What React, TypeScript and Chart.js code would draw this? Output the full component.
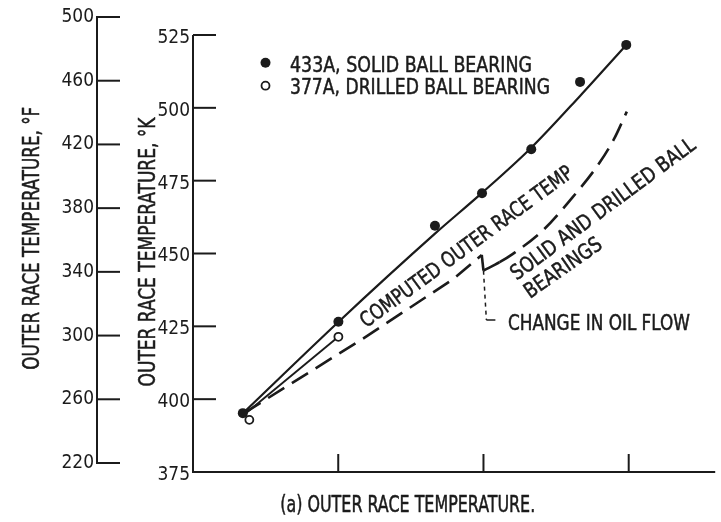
import React, { useEffect, useRef } from 'react';
import { Chart, registerables } from 'chart.js';

Chart.register(...registerables);

const INK = '#1b1b1b';

// ---- axis ticks ----
const X_TICKS = [1, 2, 3];
const K_TICKS = [375, 400, 425, 450, 475, 500, 525];
const F_TICKS = [220, 260, 300, 340, 380, 420, 460, 500];

// ---- measured points ----
const SOLID_X = [0.343, 1.001, 1.666, 1.99, 2.329, 2.665, 2.983];
const SOLID_K = [395.2, 426.6, 459.5, 470.7, 485.8, 508.9, 521.6];
const DRILLED_X = [0.388, 1.001];
const DRILLED_K = [392.9, 421.4];

// ---- faired curves ----
const SOLID_FIT_X = [0.343, 1.001, 1.666, 1.99, 2.329, 2.665, 2.983];
const SOLID_FIT_K = [395.15, 426.5, 456.8, 470.8, 486.3, 504.1, 521.6];
const DRILLED_FIT_X = [0.36, 1.001];
const DRILLED_FIT_K = [395.0, 421.4];

// ---- computed outer race temperature ----
const CALC_LOW_X = [0.354, 1.171, 1.791, 1.988, 2.0];
const CALC_LOW_K = [395.3, 420.8, 441.2, 449.5, 444.1];
const CALC_HIGH_X = [2.0, 2.111, 2.2, 2.4, 2.6, 2.8, 2.9, 2.987];
const CALC_HIGH_K = [444.1, 447.0, 449.8, 457.5, 468.5, 481.2, 489.4, 498.7];

// ---- change in oil flow leader ----
const OIL_X = [2.0, 2.02, 2.082];
const OIL_K = [444.1, 427.2, 427.2];

const LEGEND = ['433A, SOLID BALL BEARING', '377A, DRILLED BALL BEARING'];
const TITLE_K = 'OUTER RACE TEMPERATURE, \u00B0K';
const TITLE_F = 'OUTER RACE TEMPERATURE, \u00B0F';
const NOTE_COMPUTED = 'COMPUTED OUTER RACE TEMP';
const NOTE_BEARINGS_1 = 'SOLID AND DRILLED BALL';
const NOTE_BEARINGS_2 = 'BEARINGS';
const NOTE_OIL = 'CHANGE IN OIL FLOW';
const CAPTION = '(a) OUTER RACE TEMPERATURE.';

const pts = (xs: number[], ys: number[]) => xs.map((x, i) => ({ x, y: ys[i] }));

function pickFamily(): { family: string; narrow: boolean } {
  const c = document.createElement('canvas').getContext('2d')!;
  const sample = 'OUTER RACE TEMPERATURE 0123456789';
  const cands = ['Liberation Sans Narrow', 'DejaVu Sans Condensed', 'Roboto Condensed', 'Open Sans Condensed'];
  for (const f of cands) {
    c.font = '20px monospace';
    const a = c.measureText(sample).width;
    c.font = `20px '${f}', monospace`;
    const b = c.measureText(sample).width;
    if (Math.abs(a - b) > 1) return { family: `'${f}', sans-serif`, narrow: f === 'Liberation Sans Narrow' };
  }
  return { family: "'Liberation Sans', sans-serif", narrow: false };
}

function seg(ctx: CanvasRenderingContext2D, x1: number, y1: number, x2: number, y2: number) {
  ctx.beginPath();
  ctx.moveTo(x1, y1);
  ctx.lineTo(x2, y2);
  ctx.stroke();
}

export default function App() {
  const ref = useRef<HTMLCanvasElement>(null);

  useEffect(() => {
    const canvas = ref.current!;
    const { family, narrow } = pickFamily();

    const drawText = (
      ctx: CanvasRenderingContext2D,
      text: string,
      cx: number,
      cy: number,
      width: number,
      capH: number,
      angleDeg: number
    ) => {
      ctx.save();
      ctx.font = `${Math.round(capH / 0.72)}px ${family}`;
      ctx.translate(cx, cy);
      ctx.rotate((-angleDeg * Math.PI) / 180);
      const w = ctx.measureText(text).width;
      ctx.scale(width / w, 1);
      ctx.textAlign = 'center';
      ctx.textBaseline = 'alphabetic';
      ctx.fillStyle = INK;
      ctx.strokeStyle = INK;
      ctx.lineWidth = 0.5;
      ctx.lineJoin = 'round';
      ctx.fillText(text, 0, capH / 2);
      ctx.strokeText(text, 0, capH / 2);
      ctx.restore();
    };

    const paper = {
      id: 'paper',
      beforeDatasetsDraw(chart: any) {
        const { ctx, chartArea } = chart;
        const x = chart.scales.x;
        const y = chart.scales.y;
        const yF = chart.scales.yF;
        ctx.save();
        ctx.strokeStyle = INK;
        ctx.lineWidth = 2;
        // Kelvin axis
        const xk = chartArea.left;
        seg(ctx, xk, y.getPixelForValue(K_TICKS[K_TICKS.length - 1]), xk, y.getPixelForValue(K_TICKS[0]) + 1);
        K_TICKS.forEach((v) => {
          const py = y.getPixelForValue(v);
          seg(ctx, xk, py, xk + 23, py);
        });
        // bottom axis
        seg(ctx, xk - 1, chartArea.bottom, chartArea.right, chartArea.bottom);
        X_TICKS.forEach((v) => {
          const px = x.getPixelForValue(v);
          seg(ctx, px, chartArea.bottom, px, chartArea.bottom - 18);
        });
        // Fahrenheit axis
        const xf = yF.right;
        seg(ctx, xf, yF.getPixelForValue(F_TICKS[F_TICKS.length - 1]) - 1, xf, yF.getPixelForValue(F_TICKS[0]) + 1);
        F_TICKS.forEach((v) => {
          const py = yF.getPixelForValue(v);
          seg(ctx, xf, py, xf + 23, py);
        });
        ctx.restore();
      },
      afterDraw(chart: any) {
        const ctx: CanvasRenderingContext2D = chart.ctx;
        ctx.save();
        // legend markers
        ctx.fillStyle = INK;
        ctx.beginPath();
        ctx.arc(265.5, 62.7, 5, 0, Math.PI * 2);
        ctx.fill();
        ctx.strokeStyle = INK;
        ctx.lineWidth = 1.8;
        ctx.fillStyle = '#fff';
        ctx.beginPath();
        ctx.arc(265.5, 85.7, 4, 0, Math.PI * 2);
        ctx.fill();
        ctx.stroke();
        ctx.restore();

        drawText(ctx, LEGEND[0], 411, 64, 242, 15.5, 0);
        drawText(ctx, LEGEND[1], 420, 86, 260, 15.5, 0);

        drawText(ctx, TITLE_K, 147, 252, 269, 16.5, 90);
        drawText(ctx, TITLE_F, 31, 238.3, 263, 16.5, 90);

        drawText(ctx, NOTE_COMPUTED, 466, 246, 258, 15, 36.2);
        drawText(ctx, NOTE_BEARINGS_1, 602.5, 208.3, 224, 15, 36.4);
        drawText(ctx, NOTE_BEARINGS_2, 562.5, 267, 90, 15, 35);
        drawText(ctx, NOTE_OIL, 599, 322.5, 182, 15, 0);

        drawText(ctx, CAPTION, 407.7, 503.5, 255, 16.5, 0);
      },
    };

    const tickFont = { family, size: narrow ? 21 : 19 };

    const chart = new Chart(canvas, {
      type: 'line',
      data: {
        datasets: [
          {
            label: LEGEND[0],
            data: pts(SOLID_X, SOLID_K),
            showLine: false,
            pointRadius: 5,
            pointBackgroundColor: INK,
            pointBorderColor: INK,
            pointBorderWidth: 0,
            yAxisID: 'y',
            xAxisID: 'x',
          },
          {
            label: LEGEND[1],
            data: pts(DRILLED_X, DRILLED_K),
            showLine: false,
            pointRadius: 4,
            pointBackgroundColor: '#ffffff',
            pointBorderColor: INK,
            pointBorderWidth: 1.8,
            yAxisID: 'y',
            xAxisID: 'x',
          },
          {
            label: 'Solid bearing faired curve',
            data: pts(SOLID_FIT_X, SOLID_FIT_K),
            borderColor: INK,
            borderWidth: 2.2,
            pointRadius: 0,
            cubicInterpolationMode: 'monotone',
            fill: false,
            yAxisID: 'y',
            xAxisID: 'x',
          },
          {
            label: 'Drilled bearing faired curve',
            data: pts(DRILLED_FIT_X, DRILLED_FIT_K),
            borderColor: INK,
            borderWidth: 1.9,
            pointRadius: 0,
            fill: false,
            yAxisID: 'y',
            xAxisID: 'x',
          },
          {
            label: 'Computed outer race temp',
            data: pts(CALC_LOW_X, CALC_LOW_K),
            borderColor: INK,
            borderWidth: 2.6,
            pointRadius: 0,
            tension: 0,
            fill: false,
            segment: {
              borderDash: (c: any) => (c.p0DataIndex >= CALC_LOW_X.length - 2 ? [] : [19, 9]),
            },
            yAxisID: 'y',
            xAxisID: 'x',
          },
          {
            label: 'Computed outer race temp (changed oil flow)',
            data: pts(CALC_HIGH_X, CALC_HIGH_K),
            borderColor: INK,
            borderWidth: 2.6,
            pointRadius: 0,
            cubicInterpolationMode: 'monotone',
            fill: false,
            segment: {
              borderDash: (c: any) => (c.p0DataIndex === 0 ? [] : [19, 9]),
            },
            yAxisID: 'y',
            xAxisID: 'x',
          },
          {
            label: 'Change in oil flow',
            data: pts(OIL_X, OIL_K),
            borderColor: INK,
            borderWidth: 1.5,
            pointRadius: 0,
            tension: 0,
            fill: false,
            segment: {
              borderDash: (c: any) => (c.p0DataIndex === 0 ? [4, 4] : []),
            },
            yAxisID: 'y',
            xAxisID: 'x',
          },
        ],
      },
      options: {
        responsive: false,
        animation: false,
        devicePixelRatio: 1,
        layout: { padding: { top: 17, bottom: 50, left: 0, right: 0 } },
        plugins: {
          legend: { display: false },
          tooltip: { enabled: false },
          title: { display: false },
        },
        scales: {
          x: {
            type: 'linear',
            display: false,
            min: 0,
            max: 528 / 146.85,
          },
          yF: {
            type: 'linear',
            position: 'left',
            weight: 1,
            min: 500 - 455 / (446 / 280),
            max: 500,
            afterBuildTicks: (s: any) => {
              s.ticks = F_TICKS.map((v) => ({ value: v }));
            },
            afterFit: (s: any) => {
              s.width = 97;
            },
            grid: { display: false, drawTicks: false },
            border: { display: false },
            ticks: { padding: 3, font: tickFont, color: INK, autoSkip: false, maxRotation: 0 },
          },
          y: {
            type: 'linear',
            position: 'left',
            weight: 0,
            min: 375,
            max: 375 + 455 / (437 / 150),
            afterBuildTicks: (s: any) => {
              s.ticks = K_TICKS.map((v) => ({ value: v }));
            },
            afterFit: (s: any) => {
              s.width = 96;
            },
            grid: { display: false, drawTicks: false },
            border: { display: false },
            ticks: { padding: 3, labelOffset: 3, font: tickFont, color: INK, autoSkip: false, maxRotation: 0 },
          },
        },
      },
      plugins: [paper],
    } as any);

    return () => chart.destroy();
  }, []);

  return (
    <div style={{ position: 'absolute', left: 0, top: 0, width: 721, height: 522, background: '#ffffff' }}>
      <canvas ref={ref} width={721} height={522} style={{ display: 'block', width: 721, height: 522 }} />
    </div>
  );
}
